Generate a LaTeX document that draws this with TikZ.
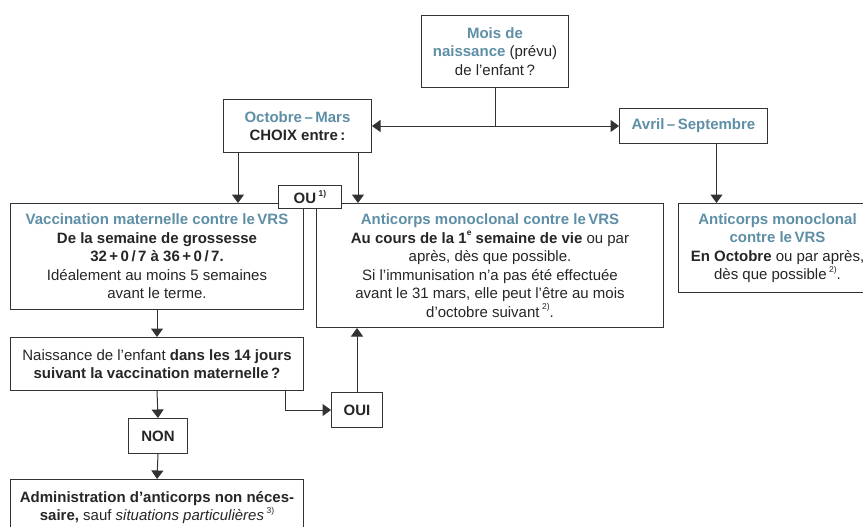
\documentclass[tikz,border=0pt]{standalone}
\usepackage{fontspec}
\setmainfont{Liberation Sans}
\usetikzlibrary{arrows.meta}
\definecolor{ttlc}{HTML}{5E8FA6}
\definecolor{txtc}{HTML}{262626}
\definecolor{lnc}{HTML}{333333}
\newcommand\mytitle[1]{{\bfseries\color{ttlc}#1}}
\newcommand\mysup[1]{\raisebox{0.5em}{\fontsize{8.5}{8.5}\selectfont #1}}
\begin{document}
\begin{tikzpicture}[x=1pt,y=-1pt,
  font=\fontsize{15}{18.5}\selectfont,
  box/.style={draw=lnc, line width=1pt, fill=white, inner sep=0pt, align=center, text=txtc, anchor=north west},
  conn/.style={draw=lnc, line width=1pt},
  arr/.style={conn, -{Triangle[width=12pt,length=8.5pt]}},
  darr/.style={conn, {Triangle[width=12pt,length=8.5pt]}-{Triangle[width=12pt,length=8.5pt]}}]
\clip (0,0) rectangle (863,527);
\fill[white] (0,0) rectangle (863,527);

\node[box, minimum width=147pt, minimum height=72pt] (mois) at (421,15)
  {\mytitle{Mois de}\\ \mytitle{naissance} (prévu)\\ de l’enfant\,?};
\node[box, minimum width=148pt, minimum height=53pt] (oct) at (223,99)
  {\mytitle{Octobre\,–\,Mars}\\ \textbf{CHOIX entre\,:}};
\node[box, minimum width=148pt, minimum height=35pt] (avril) at (619,108)
  {\mytitle{Avril\,–\,Septembre}};

\node[box, minimum width=293pt, minimum height=106pt] (vac) at (10,203)
  {\mytitle{Vaccination maternelle contre le\,VRS}\\
   \textbf{De la semaine de grossesse}\\
   \textbf{32\,+\,0\,/\,7 à 36\,+\,0\,/\,7.}\\
   Idéalement au moins 5 semaines\\
   avant le terme.};
\node[box, minimum width=347pt, minimum height=124pt] (anti) at (316,203)
  {\mytitle{Anticorps monoclonal contre le\,VRS}\\
   \textbf{Au cours de la 1\mysup{e} semaine de vie} ou par\\
   après, dès que possible.\\
   Si l’immunisation n’a pas été effectuée\\
   avant le 31 mars, elle peut l’être au mois\\
   d’octobre suivant\,\mysup{2)}.};
\node[box, minimum width=198pt, minimum height=89pt] (right) at (678,203)
  {\mytitle{Anticorps monoclonal}\\
   \mytitle{contre le\,VRS}\\
   \textbf{En Octobre} ou par après,\\
   dès que possible\,\mysup{2)}.};
\node[box, minimum width=63pt, minimum height=23pt] (ou) at (278,185)
  {\textbf{OU\,\mysup{\bfseries 1)}}};

\node[box, minimum width=293pt, minimum height=53pt] (naiss) at (10,337)
  {Naissance de l’enfant \textbf{dans les 14 jours}\\
   \textbf{suivant la vaccination maternelle\,?}};
\node[box, minimum width=59pt, minimum height=35pt] (non) at (128,418)
  {\textbf{NON}};
\node[box, minimum width=51pt, minimum height=35pt] (oui) at (331,392)
  {\textbf{OUI}};
\node[box, minimum width=293pt, minimum height=56pt] (admin) at (10,479)
  {\textbf{Administration d’anticorps non néces-}\\
   \textbf{saire,} sauf \textit{situations particulières}\,\mysup{3)}};

% connectors
\draw[conn] (mois.south) -- (mois.south |- oct.east);
\draw[darr] (oct.east) -- (avril.west);
\draw[arr] ([xshift=15pt]oct.south west) -- ([xshift=15pt]oct.south west |- vac.north);
\draw[arr] ([xshift=-14pt]oct.south east) -- ([xshift=-14pt]oct.south east |- anti.north);
\draw[arr] ([xshift=23pt]avril.south) -- ([xshift=23pt]avril.south |- right.north);
\draw[arr] (vac.south) -- (naiss.north);
\draw[arr] (naiss.south) -- (non.north);
\draw[arr] (non.south) -- (admin.north);
\draw[arr] ([xshift=-19pt]naiss.south east) |- (oui.west);
\draw[arr] (oui.north) -- (oui.north |- anti.south);
\end{tikzpicture}
\end{document}
